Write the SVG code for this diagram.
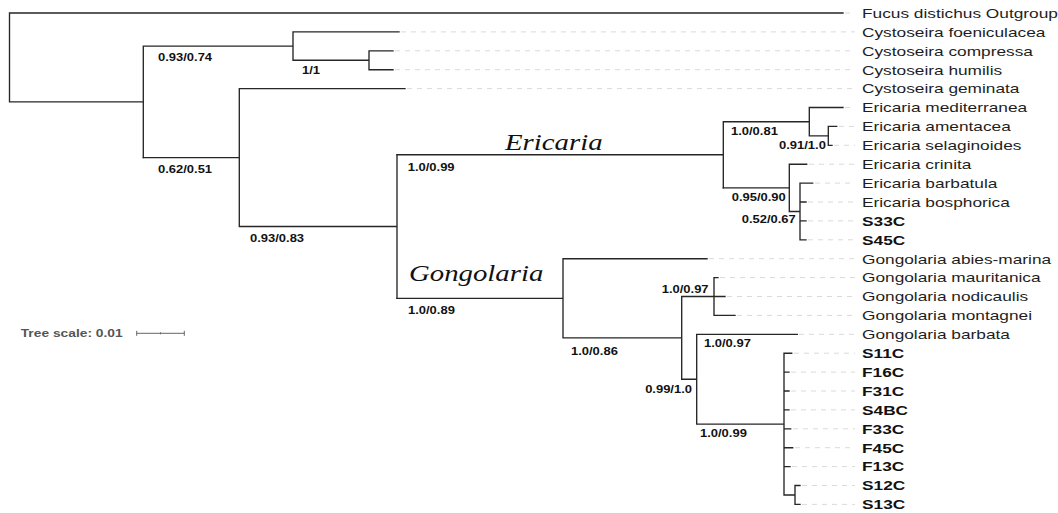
<svg xmlns="http://www.w3.org/2000/svg" width="1058" height="513" viewBox="0 0 1058 513">
<style>
.br{fill:none;stroke:#262626;stroke-width:1.35;stroke-linecap:square}
.gd{fill:none;stroke:#dadada;stroke-width:1;stroke-dasharray:5 5}
.lf{font-family:"Liberation Sans",Arial,sans-serif;font-size:13.5px;fill:#1e1e1e}
.lb{font-family:"Liberation Sans",Arial,sans-serif;font-size:13.5px;font-weight:bold;fill:#111}
.sp{font-family:"Liberation Sans",Arial,sans-serif;font-size:11px;font-weight:bold;fill:#111}
.cl{font-family:"Liberation Serif","Times New Roman",serif;font-size:22.5px;font-style:italic;fill:#111}
.sc{font-family:"Liberation Sans",Arial,sans-serif;font-size:11.5px;font-weight:bold;fill:#555}
.sb{fill:none;stroke:#666;stroke-width:1}
</style>
<rect width="1058" height="513" fill="#fff"/>
<g id="connectors">
<path class="br" d="M9.5,13V101.85M9.5,13H843M9.5,101.85H143.3"/>
<path class="br" d="M143.3,46.1V157.6M143.3,46.1H293M293,31.9V60.25M293,31.9H399M293,60.25H369M369,50.8V69.7M369,50.8H393M369,69.7H393"/>
<path class="br" d="M143.3,157.6H239.3M239.3,88.6V226.5M239.3,88.6H405M239.3,226.5H397M397,154.75V298.3"/>
<path class="br" d="M397,154.75H723.3M723.3,121.7V187.8M723.3,121.7H809.3M809.3,107.5V135.85M809.3,107.5H843M809.3,135.85H828.3M828.3,126.4V145.3M828.3,126.4H836.7M828.3,145.3H832"/>
<path class="br" d="M723.3,187.8H789.3M789.3,164.2V211.45M789.3,164.2H806.7M789.3,211.45H800M800,183.1V239.8M800,183.1H812.7M800,202H806M800,220.9H806M800,239.8H806"/>
<path class="br" d="M397,298.3H563M563,258.7V337.85M563,258.7H707M563,337.85H681.7M681.7,296.5V379.2M681.7,296.5H714M714,277.6V315.4M714,277.6H718M714,296.5H725M714,315.4H735"/>
<path class="br" d="M681.7,379.2H696.7M696.7,334.3V424.1M696.7,334.3H797.3M696.7,424.1H784M784,353.2V495M784,353.2H791.7M784,372.1H789M784,391H789M784,409.9H789M784,428.8H790.7M784,447.7H792.7M784,466.6H790M784,495H795M795,485.5V504.4M795,485.5H800M795,504.4H800"/>
<path class="gd" d="M845,13H853M401,31.9H855M395,50.8H855M395,69.7H855M407,88.6H855M845,107.5H855M839,126.4H855M834,145.3H855M809,164.2H855M815,183.1H855M808,202H855M808,220.9H855M808,239.8H855M709,258.7H855M720,277.6H855M727,296.5H855M737,315.4H855M799,334.3H855M794,353.2H855M791,372.1H855M791,391H855M791,409.9H855M793,428.8H855M795,447.7H855M792,466.6H855M802,485.5H855M802,504.4H855"/>
</g>
<g id="leaves">
<g id="n-fucus"><text class="lf" transform="translate(862,17.8) scale(1.28,1)">Fucus distichus Outgroup</text></g>
<g id="n-c-foeniculacea"><text class="lf" transform="translate(862,36.7) scale(1.28,1)">Cystoseira foeniculacea</text></g>
<g id="n-c-compressa"><text class="lf" transform="translate(862,55.6) scale(1.28,1)">Cystoseira compressa</text></g>
<g id="n-c-humilis"><text class="lf" transform="translate(862,74.5) scale(1.28,1)">Cystoseira humilis</text></g>
<g id="n-c-geminata"><text class="lf" transform="translate(862,93.4) scale(1.28,1)">Cystoseira geminata</text></g>
<g id="n-e-mediterranea"><text class="lf" transform="translate(862,112.3) scale(1.28,1)">Ericaria mediterranea</text></g>
<g id="n-e-amentacea"><text class="lf" transform="translate(862,131.2) scale(1.28,1)">Ericaria amentacea</text></g>
<g id="n-e-selaginoides"><text class="lf" transform="translate(862,150.1) scale(1.28,1)">Ericaria selaginoides</text></g>
<g id="n-e-crinita"><text class="lf" transform="translate(862,169) scale(1.28,1)">Ericaria crinita</text></g>
<g id="n-e-barbatula"><text class="lf" transform="translate(862,187.9) scale(1.28,1)">Ericaria barbatula</text></g>
<g id="n-e-bosphorica"><text class="lf" transform="translate(862,206.8) scale(1.28,1)">Ericaria bosphorica</text></g>
<g id="n-s33c"><text class="lb" transform="translate(862,225.7) scale(1.28,1)">S33C</text></g>
<g id="n-s45c"><text class="lb" transform="translate(862,244.6) scale(1.28,1)">S45C</text></g>
<g id="n-g-abies"><text class="lf" transform="translate(862,263.5) scale(1.28,1)">Gongolaria abies-marina</text></g>
<g id="n-g-mauritanica"><text class="lf" transform="translate(862,282.4) scale(1.28,1)">Gongolaria mauritanica</text></g>
<g id="n-g-nodicaulis"><text class="lf" transform="translate(862,301.3) scale(1.28,1)">Gongolaria nodicaulis</text></g>
<g id="n-g-montagnei"><text class="lf" transform="translate(862,320.2) scale(1.28,1)">Gongolaria montagnei</text></g>
<g id="n-g-barbata"><text class="lf" transform="translate(862,339.1) scale(1.28,1)">Gongolaria barbata</text></g>
<g id="n-s11c"><text class="lb" transform="translate(862,358) scale(1.28,1)">S11C</text></g>
<g id="n-f16c"><text class="lb" transform="translate(862,376.9) scale(1.28,1)">F16C</text></g>
<g id="n-f31c"><text class="lb" transform="translate(862,395.8) scale(1.28,1)">F31C</text></g>
<g id="n-s4bc"><text class="lb" transform="translate(862,414.7) scale(1.28,1)">S4BC</text></g>
<g id="n-f33c"><text class="lb" transform="translate(862,433.6) scale(1.28,1)">F33C</text></g>
<g id="n-f45c"><text class="lb" transform="translate(862,452.5) scale(1.28,1)">F45C</text></g>
<g id="n-f13c"><text class="lb" transform="translate(862,471.4) scale(1.28,1)">F13C</text></g>
<g id="n-s12c"><text class="lb" transform="translate(862,490.3) scale(1.28,1)">S12C</text></g>
<g id="n-s13c"><text class="lb" transform="translate(862,509.2) scale(1.28,1)">S13C</text></g>
</g>
<g id="support">
<text class="sp" transform="translate(158,60.5) scale(1.18,1)">0.93/0.74</text>
<text class="sp" transform="translate(302,74) scale(1.18,1)">1/1</text>
<text class="sp" transform="translate(158,172.5) scale(1.18,1)">0.62/0.51</text>
<text class="sp" transform="translate(250,242) scale(1.18,1)">0.93/0.83</text>
<text class="sp" transform="translate(407.7,171) scale(1.18,1)">1.0/0.99</text>
<text class="sp" transform="translate(408,314) scale(1.18,1)">1.0/0.89</text>
<text class="sp" transform="translate(731,135.3) scale(1.18,1)">1.0/0.81</text>
<text class="sp" transform="translate(779,149) scale(1.18,1)">0.91/1.0</text>
<text class="sp" transform="translate(731.7,201) scale(1.18,1)">0.95/0.90</text>
<text class="sp" transform="translate(741.7,223) scale(1.18,1)">0.52/0.67</text>
<text class="sp" transform="translate(571,355) scale(1.18,1)">1.0/0.86</text>
<text class="sp" transform="translate(661.7,293) scale(1.18,1)">1.0/0.97</text>
<text class="sp" transform="translate(704,347) scale(1.18,1)">1.0/0.97</text>
<text class="sp" text-anchor="end" transform="translate(692,392.5) scale(1.18,1)">0.99/1.0</text>
<text class="sp" transform="translate(700,437) scale(1.18,1)">1.0/0.99</text>
</g>
<g id="clades">
<text class="cl" transform="translate(505,150) scale(1.28,1)">Ericaria</text>
<text class="cl" transform="translate(409,280.7) scale(1.28,1)">Gongolaria</text>
</g>
<g id="tree-scale">
<text class="sc" transform="translate(20.7,337) scale(1.2,1)">Tree scale: 0.01</text>
<path class="sb" d="M136.7,333.3H184.3M136.7,330.8V335.8M184.3,330.8V335.8M160.5,332.3V334.3"/>
</g>
</svg>
